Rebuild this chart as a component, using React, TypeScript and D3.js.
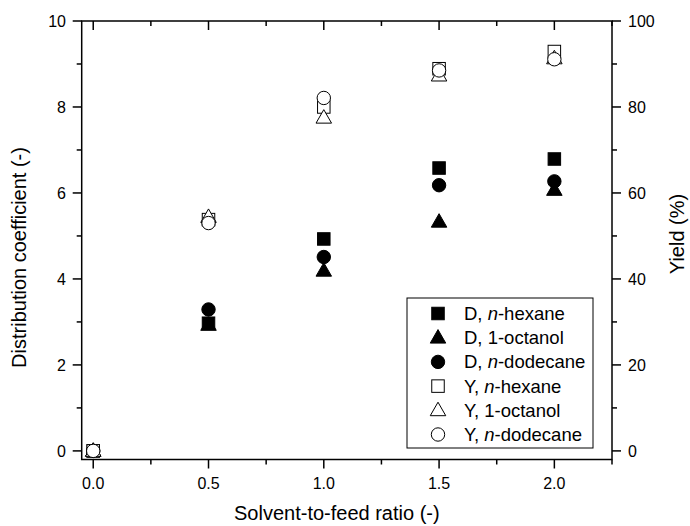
import React from "react";
import * as d3 from "d3";

const ratios = [0, 0.5, 1.0, 1.5, 2.0];
const dHexane = [0, 2.97, 4.93, 6.58, 6.79];
const dOctanol = [0, 2.93, 4.19, 5.33, 6.07];
const dDodecane = [0, 3.29, 4.51, 6.18, 6.27];
const yHexane = [0, 53.8, 80.0, 88.9, 92.9];
const yOctanol = [0, 54.4, 77.5, 87.3, 91.3];
const yDodecane = [0, 53.0, 82.1, 88.5, 91.1];

const xTicks = [0, 0.5, 1.0, 1.5, 2.0];
const xMinor = [0.25, 0.75, 1.25, 1.75, 2.25];
const yTicks = [0, 2, 4, 6, 8, 10];
const yMinor = [1, 3, 5, 7, 9];
const y2Ticks = [0, 20, 40, 60, 80, 100];
const y2Minor = [10, 30, 50, 70, 90];

type Shape = "square" | "triangle" | "circle";
const series: { name: [string, string, string]; values: number[]; shape: Shape; filled: boolean; right: boolean }[] = [
  { name: ["D, ", "n", "-hexane"], values: dHexane, shape: "square", filled: true, right: false },
  { name: ["D, ", "", "1-octanol"], values: dOctanol, shape: "triangle", filled: true, right: false },
  { name: ["D, ", "n", "-dodecane"], values: dDodecane, shape: "circle", filled: true, right: false },
  { name: ["Y, ", "n", "-hexane"], values: yHexane, shape: "square", filled: false, right: true },
  { name: ["Y, ", "", "1-octanol"], values: yOctanol, shape: "triangle", filled: false, right: true },
  { name: ["Y, ", "n", "-dodecane"], values: yDodecane, shape: "circle", filled: false, right: true },
];

const FONT = "'Liberation Sans', Arial, Helvetica, sans-serif";

function Marker({ shape, filled, x, y }: { shape: Shape; filled: boolean; x: number; y: number }) {
  const fill = filled ? "#000" : "#fff";
  const sw = 1;
  if (shape === "square") {
    const s = 12.5;
    return <rect x={x - s / 2} y={y - s / 2} width={s} height={s} fill={fill} stroke="#000" strokeWidth={sw} />;
  }
  if (shape === "circle") {
    return <circle cx={x} cy={y} r={6.7} fill={fill} stroke="#000" strokeWidth={sw} />;
  }
  const w = 15.5;
  const h = 13.5;
  const p = `M${x},${y - h * 0.6} L${x + w / 2},${y + h * 0.4} L${x - w / 2},${y + h * 0.4} Z`;
  return <path d={p} fill={fill} stroke="#000" strokeWidth={sw} />;
}

export default function App() {
  const W = 690, H = 526;
  const L = 81.7, R = 612, T = 21, B = 459.5;
  const x = d3.scaleLinear().domain([-0.05, 2.25]).range([L, R]);
  const y = d3.scaleLinear().domain([-0.2, 10]).range([B, T]);
  const y2 = d3.scaleLinear().domain([-2, 100]).range([B, T]);
  const fmt = d3.format(".1f");
  const lw = 1.5;
  const maj = 9, mnr = 5;

  const legX = 407, legY = 298, legW = 186, legH = 150;
  const rowY0 = 313.5, rowDy = 24.2;

  return (
    <svg width={W} height={H} style={{ position: "absolute", left: 0, top: 0, fontFamily: FONT }}>
      <rect x={0} y={0} width={W} height={H} fill="#fff" />
      {/* bottom axis ticks */}
      {xTicks.map((t) => (
        <g key={"xt" + t}>
          <line x1={x(t)} x2={x(t)} y1={B} y2={B + maj} stroke="#000" strokeWidth={lw} />
          <line x1={x(t)} x2={x(t)} y1={T} y2={T + maj} stroke="#000" strokeWidth={lw} />
          <text x={x(t)} y={488.5} fontSize={16} textAnchor="middle">{fmt(t)}</text>
        </g>
      ))}
      {xMinor.map((t) => (
        <g key={"xm" + t}>
          <line x1={x(t)} x2={x(t)} y1={B} y2={B + mnr} stroke="#000" strokeWidth={lw} />
          <line x1={x(t)} x2={x(t)} y1={T} y2={T + mnr} stroke="#000" strokeWidth={lw} />
        </g>
      ))}
      {yTicks.map((t) => (
        <g key={"yt" + t}>
          <line x1={L} x2={L - maj} y1={y(t)} y2={y(t)} stroke="#000" strokeWidth={lw} />
          <text x={66} y={y(t) + 5.8} fontSize={16} textAnchor="end">{t}</text>
        </g>
      ))}
      {yMinor.map((t) => (
        <line key={"ym" + t} x1={L} x2={L - mnr} y1={y(t)} y2={y(t)} stroke="#000" strokeWidth={lw} />
      ))}
      {y2Ticks.map((t) => (
        <g key={"y2t" + t}>
          <line x1={R} x2={R + maj} y1={y2(t)} y2={y2(t)} stroke="#000" strokeWidth={lw} />
          <text x={628} y={y2(t) + 5.8} fontSize={16} textAnchor="start">{t}</text>
        </g>
      ))}
      {y2Minor.map((t) => (
        <line key={"y2m" + t} x1={R} x2={R + mnr} y1={y2(t)} y2={y2(t)} stroke="#000" strokeWidth={lw} />
      ))}
      <rect x={L} y={T} width={R - L} height={B - T} fill="none" stroke="#000" strokeWidth={lw} />

      {/* data */}
      {series.map((s, si) => (
        <g key={"s" + si}>
          {s.values.map((v, i) => (
            <Marker key={i} shape={s.shape} filled={s.filled} x={x(ratios[i])} y={s.right ? y2(v) : y(v)} />
          ))}
        </g>
      ))}

      {/* legend */}
      <rect x={legX} y={legY} width={legW} height={legH} fill="#fff" stroke="#000" strokeWidth={1} />
      {series.map((s, i) => (
        <g key={"lg" + i}>
          <Marker shape={s.shape} filled={s.filled} x={438} y={rowY0 + i * rowDy} />
          <text x={464} y={rowY0 + i * rowDy + 6.5} fontSize={18.5}>
            {s.name[0]}
            {s.name[1] ? <tspan fontStyle="italic">{s.name[1]}</tspan> : null}
            {s.name[2]}
          </text>
        </g>
      ))}

      {/* axis titles */}
      <text x={(L + R) / 2 - 10} y={520} fontSize={20} textAnchor="middle">Solvent-to-feed ratio (-)</text>
      <text transform={`translate(26,257.5) rotate(-90)`} fontSize={20} textAnchor="middle">Distribution coefficient (-)</text>
      <text transform={`translate(684,234) rotate(-90)`} fontSize={20} textAnchor="middle">Yield (%)</text>
    </svg>
  );
}
